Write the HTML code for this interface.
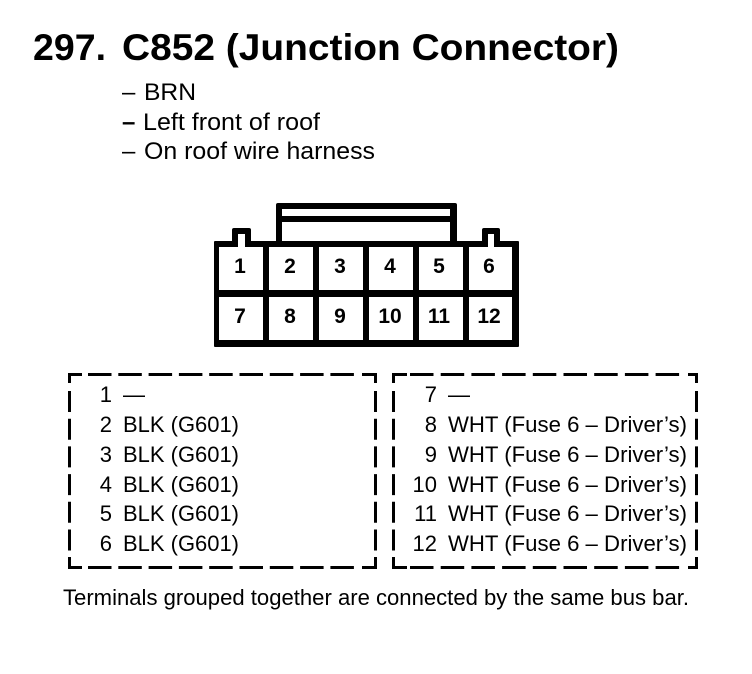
<!DOCTYPE html>
<html><head><meta charset="utf-8"><style>
html,body{margin:0;padding:0;background:#fff}
svg{display:block}
text{font-family:"Liberation Sans",Arial,sans-serif;fill:#000}
.t{font-size:24px}
.n{font-size:21px;font-weight:bold;text-anchor:middle}
.r{font-size:22px;text-anchor:end}
.l{font-size:22px}
</style></head><body>
<svg width="752" height="674" viewBox="0 0 752 674" xmlns="http://www.w3.org/2000/svg">
<rect width="752" height="674" fill="#fff"/>
<text x="33" y="60" font-size="37" font-weight="bold" textLength="73" lengthAdjust="spacingAndGlyphs">297.</text>
<text x="122" y="60" font-size="37" font-weight="bold" textLength="497" lengthAdjust="spacingAndGlyphs">C852 (Junction Connector)</text>
<text class="t" x="122" y="100">–</text><text class="t" x="144" y="100" textLength="52" lengthAdjust="spacingAndGlyphs">BRN</text>
<text class="t" x="122" y="130" font-weight="bold">–</text><text class="t" x="143" y="130" textLength="177" lengthAdjust="spacingAndGlyphs">Left front of roof</text>
<text class="t" x="122" y="159">–</text><text class="t" x="144" y="159" textLength="231" lengthAdjust="spacingAndGlyphs">On roof wire harness</text>

<!-- connector -->
<g fill="#000">
<rect x="276" y="203" width="181" height="44" rx="2"/>
<rect x="232" y="228" width="19" height="20" rx="2"/>
<rect x="482" y="228" width="18" height="20" rx="2"/>
<rect x="214" y="241" width="305" height="106" rx="1"/>
</g>
<g fill="#fff">
<rect x="282" y="209" width="168" height="7"/>
<rect x="282" y="222" width="168" height="19"/>
<rect x="238" y="234" width="7" height="13"/>
<rect x="488" y="234" width="6" height="13"/>
<rect x="219" y="247" width="44" height="43"/>
<rect x="269" y="247" width="44" height="43"/>
<rect x="319" y="247" width="44" height="43"/>
<rect x="369" y="247" width="44" height="43"/>
<rect x="419" y="247" width="44" height="43"/>
<rect x="469" y="247" width="43" height="43"/>
<rect x="219" y="297" width="44" height="43"/>
<rect x="269" y="297" width="44" height="43"/>
<rect x="319" y="297" width="44" height="43"/>
<rect x="369" y="297" width="44" height="43"/>
<rect x="419" y="297" width="44" height="43"/>
<rect x="469" y="297" width="43" height="43"/>
</g>
<g class="labels">
<text class="n" x="240" y="273">1</text><text class="n" x="290" y="273">2</text><text class="n" x="340" y="273">3</text><text class="n" x="390" y="273">4</text><text class="n" x="439" y="273">5</text><text class="n" x="489" y="273">6</text>
<text class="n" x="240" y="323">7</text><text class="n" x="290" y="323">8</text><text class="n" x="340" y="323">9</text><text class="n" x="390" y="323">10</text><text class="n" x="439" y="323">11</text><text class="n" x="489" y="323">12</text>
</g>

<!-- dashed boxes -->
<g fill="none" stroke="#000" stroke-width="3">
<path d="M69.5 383V374.5H82"/>
<path d="M88 374.5H356" stroke-dasharray="23.5 6.8"/>
<path d="M362 374.5H375.5V383"/>
<path d="M69.5 391V551" stroke-dasharray="21 6.7"/>
<path d="M375.5 391V551" stroke-dasharray="21 6.7"/>
<path d="M69.5 557V567.5H82"/>
<path d="M88 567.5H356" stroke-dasharray="23.5 6.8"/>
<path d="M362 567.5H375.5V557"/>
<path d="M393.5 383V374.5H407"/>
<path d="M410 374.5H682" stroke-dasharray="23.5 7.2"/>
<path d="M688 374.5H696.5V383"/>
<path d="M393.5 391V551" stroke-dasharray="21 6.7"/>
<path d="M696.5 391V551" stroke-dasharray="21 6.7"/>
<path d="M393.5 557V567.5H407"/>
<path d="M410 567.5H682" stroke-dasharray="23.5 7.2"/>
<path d="M688 567.5H696.5V557"/>
</g>

<!-- left list -->
<text class="r" x="112" y="402">1</text><text class="l" x="123" y="402">—</text>
<text class="r" x="112" y="432">2</text><text class="l" x="123" y="432" textLength="116" lengthAdjust="spacingAndGlyphs">BLK (G601)</text>
<text class="r" x="112" y="462">3</text><text class="l" x="123" y="462" textLength="116" lengthAdjust="spacingAndGlyphs">BLK (G601)</text>
<text class="r" x="112" y="492">4</text><text class="l" x="123" y="492" textLength="116" lengthAdjust="spacingAndGlyphs">BLK (G601)</text>
<text class="r" x="112" y="521">5</text><text class="l" x="123" y="521" textLength="116" lengthAdjust="spacingAndGlyphs">BLK (G601)</text>
<text class="r" x="112" y="551">6</text><text class="l" x="123" y="551" textLength="116" lengthAdjust="spacingAndGlyphs">BLK (G601)</text>

<!-- right list -->
<text class="r" x="437" y="402">7</text><text class="l" x="448" y="402">—</text>
<text class="r" x="437" y="432">8</text><text class="l" x="448" y="432" textLength="239" lengthAdjust="spacingAndGlyphs">WHT (Fuse 6 – Driver’s)</text>
<text class="r" x="437" y="462">9</text><text class="l" x="448" y="462" textLength="239" lengthAdjust="spacingAndGlyphs">WHT (Fuse 6 – Driver’s)</text>
<text class="r" x="437" y="492">10</text><text class="l" x="448" y="492" textLength="239" lengthAdjust="spacingAndGlyphs">WHT (Fuse 6 – Driver’s)</text>
<text class="r" x="437" y="521">11</text><text class="l" x="448" y="521" textLength="239" lengthAdjust="spacingAndGlyphs">WHT (Fuse 6 – Driver’s)</text>
<text class="r" x="437" y="551">12</text><text class="l" x="448" y="551" textLength="239" lengthAdjust="spacingAndGlyphs">WHT (Fuse 6 – Driver’s)</text>

<text class="l" x="63" y="605" textLength="626" lengthAdjust="spacingAndGlyphs">Terminals grouped together are connected by the same bus bar.</text>
</svg>
</body></html>
